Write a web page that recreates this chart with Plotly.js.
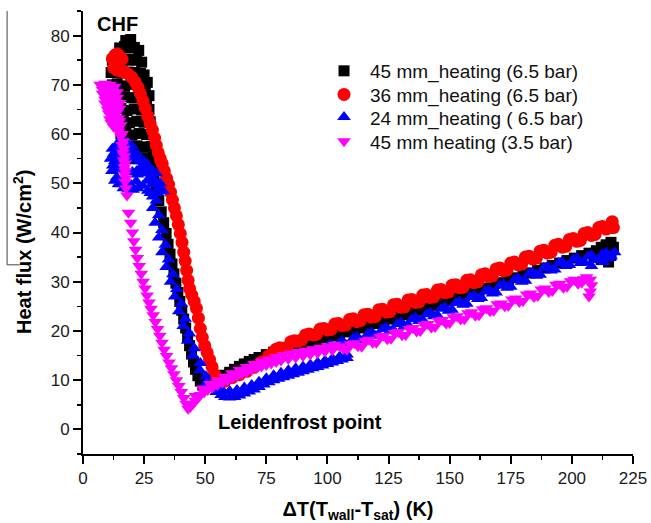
<!DOCTYPE html>
<html>
<head>
<meta charset="utf-8">
<script src="https://cdn.plot.ly/plotly-3.0.1.min.js"></script>
<style>html,body{margin:0;padding:0;background:#fff;}#chart{width:651px;height:523px;}</style>
</head>
<body>
<div id="chart"></div>
<script>
// ---- Data ----
const seriesNames = ["45 mm_heating (6.5 bar)", "36 mm_heating (6.5 bar)", "24 mm_heating ( 6.5 bar)", "45 mm heating (3.5 bar)"];

const xTickVals = [0, 25, 50, 75, 100, 125, 150, 175, 200, 225];
const yTickVals = [0, 10, 20, 30, 40, 50, 60, 70, 80];

// 45 mm_heating (6.5 bar) - black squares
const blackX = [
 17.5,19.5,18.5, 15,17,19,21,22.8, 12,14,16,18,20,22,24, 11.5,13.5,16,18.5,21,23.5,25,
 12,14,17,20,23,25.5,26.3, 12.3,14.5,17,20,23,26,27, 13,15.5,18,21,24,27,
 14.5,16.5,19,22,25,27.5, 15.5,17.5,20,23,26,28, 17,19.5,22,25,28, 21,24,27,28.5, 25,27.5,29.5,
 29,30,31,32,33,34,34.8,35.6,36.4,37.2,38,38.8,39.6,40.4,41.2,42,42.8,43.6,44.4,45.2,46,47,48,49,50,
 52,54,56,58,60,62,64,66,68,70,72,75,78,81,84,87,90,93,96,99,102,105,108,111,114,117,120,123,126,129,
 132,135,138,141,144,147,150,153,156,159,162,165,168,171,174,177,180,183,186,189,192,195,198,201,204,
 207,210,212,214,216,217,216,215,212,209
];
const blackY = [
 79,79.2,78.5, 77.5,77.8,77.5,77.6,77, 75,75.3,75,75.2,75,75.1,74.6, 72.5,72.7,72.4,72.6,72.5,72.3,72,
 70,70.2,69.8,70.1,70,69.7,70.5, 67.5,67.3,67.6,67.4,67.5,67.2,67.8, 65,65.2,64.8,65.1,64.9,65,
 62.5,62.7,62.3,62.6,62.4,62.5, 60,60.2,59.8,60.1,59.9,60.2, 57.5,57.3,57.6,57.4,57.5, 55,55.2,54.8,55.3, 53.2,53,52.8,
 51,48.8,46.5,44.2,42,39.8,37.6,35.6,33.6,31.6,29.7,27.8,26,24.2,22.4,20.6,18.8,17,15.3,13.7,12.2,10.9,9.8,9,8.7,
 9.3,9.8,10.4,11,11.6,12.2,12.8,13.3,13.8,14.2,14.6,15.2,15.7,16.2,16.6,17,17.4,17.8,18.2,18.6,19,19.4,19.8,20.2,20.6,21.1,21.5,22,22.4,22.8,
 23.3,23.8,24.2,24.7,25.2,25.7,26.2,26.7,27.2,27.7,28.2,28.7,29.2,29.8,30.3,30.8,31.3,31.8,32.3,32.8,33.3,33.8,34.3,34.8,35.3,
 35.8,36.3,37,37.5,38,37,35.5,34,34.5,35
];

// 36 mm_heating (6.5 bar) - red circles
const redX = [
 12,13,14,15,16,12.5,14,15.5,17,18.5,20,21.3,22.5,23.5,24.5,25.5,26.5,27.5,28.4,29.3,30,30.8,31.6,32.4,33.3,34.2,35,35.8,
 36.6,37.4,38.2,39,39.8,40.5,41.2,41.8,42.4,43,43.6,44.5,45.5,46.4,47.2,48,48.8,49.8,50.8,51.8,52.8,53.8,54.8,56,
 58,61,64,67,70,73,76,79,82,85,88,91,94,97,100,103,106,109,112,115,118,121,124,127,130,133,136,139,142,145,148,151,
 154,157,160,163,166,169,172,175,178,181,184,187,190,193,196,199,202,205,208,211,214,216.5,217,
 77.5,80.5,83.5,86.5,89.5,92.5,95.5,98.5,101.5,104.5,107.5,110.5,113.5,116.5,119.5,122.5,125.5,128.5,131.5,134.5,
 137.5,140.5,143.5,146.5,149.5,152.5,155.5,158.5,161.5,164.5,167.5,170.5,173.5,176.5,179.5,182.5,185.5,188.5,191.5,
 194.5,197.5,200.5,203.5,206.5,209.5,212.5,215.5
];
const redY = [
 75.3,76,76.3,75.8,75.2,73.5,73,72.8,72.6,72.2,71.5,70.6,69.5,68.2,66.7,65.2,63.6,62.1,60.8,59.2,57.7,56.2,55,54,52.5,51,49.8,48.2,
 46.6,45,43.4,41.6,39.8,38,36,34.2,32.3,30.3,28.6,27.3,26,24.6,22.6,20.5,18.7,17,15.6,14.2,12.7,11.2,10,9.4,
 9.8,10.5,11.1,11.8,12.6,13.7,15,16.3,16.5,17.8,17.9,19.2,19.2,20.4,20.2,21.4,21.1,22.3,21.9,23.3,22.8,24.3,23.8,25.3,24.8,26.3,25.8,27.3,26.8,28.3,27.8,29.3,
 28.8,30.3,29.8,31.4,31,32.6,32.2,33.8,33.4,35,34.6,36.2,35.8,37.4,37,38.6,38.2,39.8,39.4,41,40.7,42.2,41,
 15.4,16.6,16.6,18,18.2,19.4,19.3,20.5,20.3,21.5,21.2,22.5,22.1,23.4,22.9,24.4,23.9,25.4,24.9,26.4,
 25.9,27.4,26.9,28.4,27.9,29.4,28.9,30.4,30,31.6,31.2,32.8,32.4,34,33.6,35.2,34.8,36.4,36,
 37.6,37.2,38.8,38.4,40,39.6,41.2,41
];

// 24 mm_heating (6.5 bar) - blue up-triangles
const blueX = [
 12,14,16,18,20,11.3,13,15,17,19,21,23,11.8,13.8,15.8,17.8,19.8,21.8,23.8,25.8,27.5,24.5,26.5,28.5,22,25,27,29.5,31,30,31.5,32.8,
 12.5,14.5,16.5,18.5,20.5,22.5,12.2,14.2,16.2,18.2,20.2,22.2,24.2,26.2,28.2,14.5,16.5,18.5,20.5,22.5,13,30.5,26,28.5,
 27.5,30,28.5,31,29.5,32.3,31,33.7,32.3,35,34,36.8,35.8,38.4,37.5,40.2,39.2,41.8,41,43.5,42.8,45.5,45,48,47.8,50.3,50.5,52.5,54.5,
 56.5,58,60,62,64,66,68,70,72,74,76,78,80,82,84,86,88,90,92,94,96,98,100,102,104,106,108,
 57,60,63,66,69,72,75,78,81,84,87,90,93,96,99,102,105,108,
 100,103,106,109,112,115,118,121,124,127,130,133,136,139,142,145,148,151,154,157,160,163,166,169,172,175,178,181,184,187,
 190,193,196,199,202,205,208,211,214,216,217.5,213,208,
 101.5,104.5,107.5,110.5,113.5,116.5,119.5,122.5,125.5,128.5,131.5,134.5,137.5,140.5,143.5,146.5,149.5,152.5,155.5,158.5,
 161.5,164.5,167.5,170.5,173.5,176.5,179.5,182.5,185.5,188.5,191.5,194.5,197.5,200.5,203.5,206.5,209.5,212.5,215.5
];
const blueY = [
 57,58,58.6,58.3,57.6,55,54.5,55.2,54.6,55.3,55,54.5,52.5,51.2,50.2,49.5,49.6,50.4,52.4,52,51,49.5,48.5,47.3,52.5,54.3,53.2,50.5,49,52,50,48.4,
 56,56.8,57,56.5,56.2,55.8,53.6,53,52.8,52.5,52.3,51.8,53.5,50.5,49.8,49.8,49,48.8,48.7,49,50.5,48,54,52.5,
 48,46.5,45,43.5,42,40.5,39,37.5,36,34.5,33,31.5,30,28.5,27,25.5,24,22.5,21,19.5,18,16.5,15,13.5,12,10.8,9.5,8.5,7.6,
 7,6.6,6.5,6.6,6.9,7.3,7.7,8.1,8.6,9.1,9.6,10,10.3,10.6,10.9,11.2,11.5,11.8,12.1,12.4,12.7,13,13.3,13.6,13.9,14.2,14.5,
 8,7.8,8,8.5,9,9.7,10.4,11,11.5,12,12.4,12.8,13.2,13.6,14,14.4,14.8,15.2,
 16.8,16.7,17.9,17.4,18.8,18.2,19.7,19.2,20.7,20.2,21.7,21.2,22.7,22.2,23.7,23.2,24.8,24.3,26,25.5,27.2,26.7,28.3,27.8,29.5,29,30.7,30.2,31.9,31.4,
 33.1,32.5,34.1,33.4,34.8,34,35.4,34.6,35.9,35.2,36,34,33.2,
 17.2,17.4,17.2,18.5,18.1,19.4,19,20.4,20,21.4,21,22.4,22,23.4,23,24.5,24.1,25.7,25.3,26.9,
 26.5,28,27.6,29.2,28.8,30.4,30,31.6,31.2,32.8,32.3,33.8,33.2,34.5,33.8,35.1,34.4,35.6,34.8
];

// 45 mm heating (3.5 bar) - magenta down-triangles
const magentaX = [
 7,9,11,13,8,10,12,14,9,11,13,15,10.5,12.5,14.5,11.5,13.5,15.5,14.5,
 8,10,12,14,9,11,13,15,10,12,14,11,13,15,12.5,14.5,15.5,16,16.3,16.6,16.9,17,17.2,17.6,
 16,16.5,16.7,17,17.2,17.3,17.5,18,18.6,19.5,20.2,20.8,21.5,22.2,23,23.8,24.6,25.4,26.2,27,27.8,28.7,29.6,30.5,31.4,
 32.3,33.2,34.2,35.2,36.2,37.2,38.2,39.2,40.2,41.2,42.2,43,44,45,46,47,48,49.5,51,53,55,57,59,61,63,65,67,69,71,73,75,77,79,81,
 84,87,90,93,96,99,102,105,108,111,114,117,120,123,126,129,132,135,138,141,144,147,150,153,156,159,162,165,168,171,174,177,
 180,183,186,189,192,195,198,201,204,206,207.5,208,207.5,207,
 46,49,52,55,58,61,64,67,70,73,76,79,82,85,88,91,94,97,100,103,
 106.5,109.5,112.5,115.5,118.5,121.5,124.5,127.5,130.5,133.5,136.5,139.5,142.5,145.5,148.5,151.5,154.5,157.5,160.5,163.5,
 166.5,169.5,172.5,175.5,178.5,181.5,184.5,187.5,190.5,193.5,196.5,199.5,202.5,205
];
const magentaY = [
 70,70.2,70,69.6,68.2,68,67.8,67.4,66.2,66,65.6,65.2,64.2,63.8,63.2,62.3,62,61.8,60.5,
 69,69.1,68.8,68.5,67,66.9,66.6,66.3,65,64.9,64.4,63,62.9,62.7,61.5,61.2,59.5,57.8,56.2,54.7,53.2,51.8,50.3,49,
 60,58.5,57,55.5,54,52.5,51,47.5,44,42,40,38.2,36.5,34.8,33.2,31.6,30,28.6,27.2,25.8,24.5,23.2,21.8,20.4,19,
 17.6,16.2,14.9,13.6,12.4,11.2,10,8.8,7.6,6.4,5.2,4.2,4.6,5.2,5.8,6.4,7,7.5,8,8.5,9,9.5,10,10.4,10.9,11.3,11.7,12.1,12.5,12.8,13.1,13.4,13.7,14,
 14.3,14.6,14.9,15.2,15.5,15.8,16.1,16.9,16.2,17.5,16.8,18.2,17.6,19,18.4,19.8,19.2,20.6,20,21.4,20.8,22.2,21.6,23,22.4,23.8,23.2,24.6,24.1,25.6,25.1,26.6,
 26.1,27.6,27.1,28.6,28.1,29.6,29,30.4,29.8,30.9,30.4,29.3,28,27,
 6.8,8.3,9.2,10,10.7,11.4,12.1,12.7,13.3,13.8,14.2,14.7,15.1,15.4,15.7,16,16.3,16.6,16.9,17.2,
 16.4,17.3,16.9,18,17.6,18.8,18.3,19.6,19.1,20.4,19.9,21.2,20.7,22,21.5,22.8,22.3,23.6,23.1,24.4,
 24,25.4,25,26.4,25.9,27.4,26.9,28.4,27.9,29.4,28.8,30.1,29.6,30.5
];

// ---- Chart ----
const FONT = "Liberation Sans, Arial, sans-serif";
const colors = ["#000000", "#ff0000", "#0000ff", "#ff00ff"];
const symbols = ["square", "circle", "triangle-up", "triangle-down"];
const sizes = [11, 13, 12, 12];
const legendIds = ["legend", "legend2", "legend3", "legend4"];
const legendTops = [0.9075, 0.8542, 0.803, 0.7487];
const xs = [blackX, redX, blueX, magentaX];
const ys = [blackY, redY, blueY, magentaY];

const traces = xs.map((x, i) => ({
  type: "scatter", mode: "markers", name: seriesNames[i],
  x: x, y: ys[i], legend: legendIds[i],
  marker: {symbol: symbols[i], size: sizes[i], color: colors[i], line: {width: 0}},
  cliponaxis: false
}));

const axisCommon = {
  showline: true, linecolor: "#000", linewidth: 2, mirror: false,
  ticks: "outside", ticklen: 8, tickwidth: 2, tickcolor: "#000",
  showgrid: false, zeroline: false,
  tickfont: {family: FONT, size: 17, color: "#1a1a1a"},
  automargin: false
};

const layout = {
  width: 651, height: 523,
  margin: {l: 83, r: 18, t: 11, b: 69},
  paper_bgcolor: "#fff", plot_bgcolor: "#fff",
  font: {family: FONT, color: "#000"},
  showlegend: true,
  xaxis: Object.assign({}, axisCommon, {
    range: [0, 225], tickmode: "array", tickvals: xTickVals,
    minor: {dtick: 12.5, tick0: 0, ticks: "outside", ticklen: 4, tickwidth: 1.5, tickcolor: "#000"},
    title: {text: "ΔT(T<sub>wall</sub>-T<sub>sat</sub>) (K)", standoff: 16,
            font: {family: FONT, size: 20, weight: 700, color: "#000"}}
  }),
  yaxis: Object.assign({}, axisCommon, {
    range: [-5, 85], tickmode: "array", tickvals: yTickVals,
    minor: {dtick: 5, tick0: 0, ticks: "outside", ticklen: 4, tickwidth: 1.5, tickcolor: "#000"}
  }),
  annotations: [
    {text: "Heat flux (W/cm<sup>2</sup>)", textangle: -90, xref: "paper", yref: "paper",
     x: -0.111, y: 0.458, xanchor: "center", yanchor: "middle", showarrow: false,
     font: {family: FONT, size: 20, weight: 700, color: "#000"}},
    {text: "CHF", x: 14.2, y: 82.3, xref: "x", yref: "y", showarrow: false,
     font: {family: FONT, size: 20, weight: 700, color: "#000"}},
    {text: "Leidenfrost point", x: 88.8, y: 1.6, xref: "x", yref: "y", showarrow: false,
     font: {family: FONT, size: 20, weight: 700, color: "#000"}}
  ],
  shapes: [
    {type: "line", xref: "paper", yref: "paper", x0: -0.138, x1: -0.138, y0: 1.0, y1: 0.427,
     line: {color: "#444", width: 1}},
    {type: "line", xref: "paper", yref: "paper", x0: -0.138, x1: -0.115, y0: 0.427, y1: 0.427,
     line: {color: "#444", width: 1}}
  ]
};

legendIds.forEach((id, i) => {
  layout[id] = {x: 0.4273, y: legendTops[i], xanchor: "left", yanchor: "top",
    bgcolor: "rgba(0,0,0,0)", itemwidth: 42,
    font: {family: FONT, size: 19, color: "#111"}};
});

Plotly.newPlot("chart", traces, layout, {displayModeBar: false, staticPlot: true});
</script>
</body>
</html>
